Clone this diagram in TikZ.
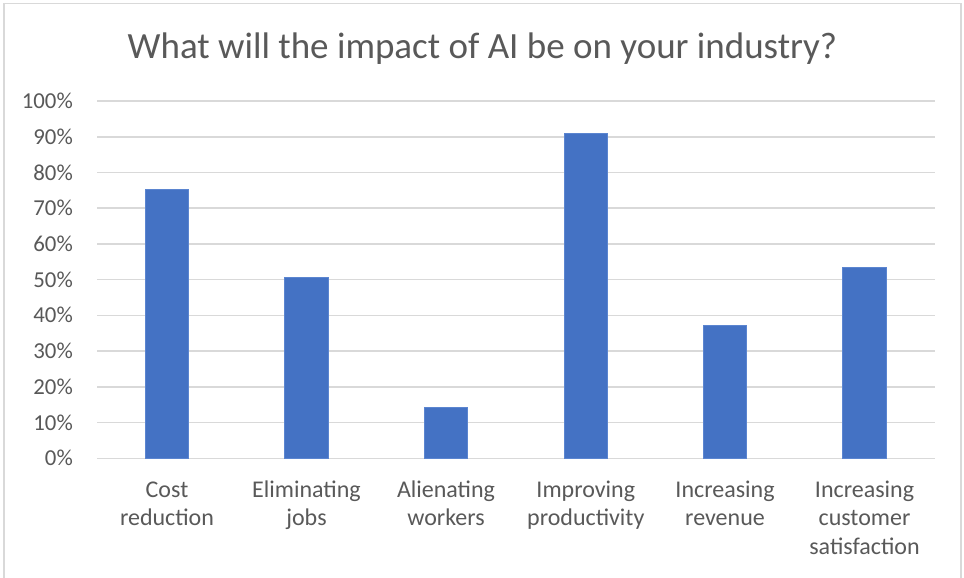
\documentclass[tikz,border=0pt]{standalone}
\usepackage{fontspec}
\setmainfont{Carlito}
\definecolor{txt}{HTML}{595959}
\definecolor{gridc}{HTML}{D9D9D9}
\definecolor{barc}{HTML}{4472C4}
\definecolor{baredge}{HTML}{5B85D0}
\tikzset{
  gridline/.style={draw=gridc, line width=1.6pt},
  framestyle/.style={draw=gridc, line width=1.8pt},
  barstyle/.style={fill=barc, draw=baredge, line width=0.8pt},
  ticklabel/.style={anchor=base east, text=txt, inner sep=0pt, font=\fontsize{22.8}{27.8}\selectfont},
  catlabel/.style={anchor=base, text=txt, inner sep=0pt, align=center, font=\fontsize{24}{28.7}\selectfont},
  titlestyle/.style={anchor=base, text=txt, inner sep=0pt, font=\fontsize{37}{44}\selectfont}
}
\begin{document}
\begin{tikzpicture}[x=1pt,y=-1pt]
\useasboundingbox (0,0) rectangle (964,578);
\fill[white] (0,0) rectangle (964,578);
\coordinate (fbl) at (4,578);
\coordinate (ftl) at (4,3.5);
\coordinate (ftr) at (961,3.5);
\coordinate (fbr) at (961,578);
\draw[framestyle] (fbl) -- (ftl) -- (ftr) -- (fbr);
\node[titlestyle] (title) at (482.5,59) {What will the impact of AI be on your industry?};
\foreach \i in {0,...,10} {
  \pgfmathsetmacro{\yy}{458.3-35.73*\i}
  \coordinate (gl\i) at (97,\yy);
  \coordinate (gr\i) at (935,\yy);
  \draw[gridline] (gl\i) -- (gr\i);
  \pgfmathtruncatemacro{\pc}{10*\i}
  \node[ticklabel] (tick\i) at (73,\yy+7.6) {\pc\%};
}
\foreach \n/\cx/\v in {1/167/75.3, 2/306.5/50.5, 3/446/14.3, 4/585.8/90.8, 5/725/37.2, 6/864.5/53.3} {
  \pgfmathsetmacro{\top}{458.3-3.573*\v}
  \draw[barstyle] (\cx-21.8,458.3) rectangle (\cx+21.8,\top);
}
\node[catlabel] (c1) at (167,525.7) {Cost\\reduction};
\node[catlabel] (c2) at (306.5,525.7) {Eliminating\\jobs};
\node[catlabel] (c3) at (446,525.7) {Alienating\\workers};
\node[catlabel] (c4) at (585.8,525.7) {Improving\\productivity};
\node[catlabel] (c5) at (725,525.7) {Increasing\\revenue};
\node[catlabel] (c6) at (864.5,554.4) {Increasing\\customer\\satisfaction};
\end{tikzpicture}
\end{document}
